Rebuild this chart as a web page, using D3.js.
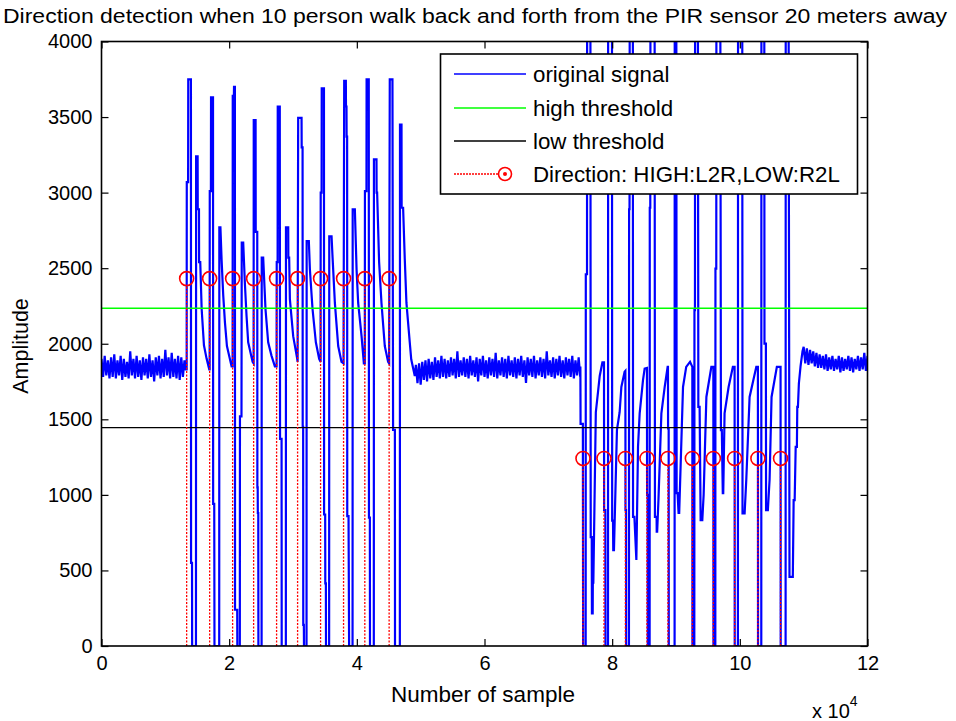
<!DOCTYPE html>
<html>
<head>
<meta charset="utf-8">
<script src="https://cdn.jsdelivr.net/npm/d3@7"></script>
<style>
body { margin: 0; background: #fff; }
text { font-family: "Liberation Sans", Arial, sans-serif; fill: #000; }
</style>
</head>
<body>
<svg id="chart" width="956" height="721"></svg>
<script>
//## values
var yTicks = [0, 500, 1000, 1500, 2000, 2500, 3000, 3500, 4000];
var xTicks = [0, 20000, 40000, 60000, 80000, 100000, 120000];
var xTickLabels = ['0', '2', '4', '6', '8', '10', '12'];
var highThreshold = 2235;
var lowThreshold = 1445;
// detections: HIGH = left to right, LOW = right to left
var l2rSamples = [13340, 16940, 20540, 23830, 27430, 30720, 34320, 37920, 41250, 45060];
var l2rLevel = 2431;
var r2lSamples = [75430, 78720, 82070, 85450, 88740, 92560, 95850, 99180, 102830, 106380];
var r2lLevel = 1241;

// idle sensor output, one reading every 250 samples
var baseStep = 250;
var baseLeft = [1900,1780,1920,1790,1890,1770,1910,1780,1930,1770,1890,1790,1920,1760,1900,1780,1880,1770,1950,1790,
    1900,1770,1920,1780,1890,1760,1910,1790,1900,1770,1930,1780,1890,1750,1910,1790,1920,1770,1900,1780,
    1960,1790,1910,1770,1940,1780,1900,1770,1920,1760,1910,1780,1890];
var baseMidStart = 49250;
var baseMid = [1860,1740,1870,1730,1880,1760,1890,1750,1900,1770,1880,1760,1910,1780,1890,1770,1920,1780,1900,1770,
    1890,1780,1910,1790,1900,1770,1950,1780,1890,1790,1910,1780,1900,1770,1920,1790,1890,1780,1910,1750,
    1900,1790,1920,1780,1890,1770,1910,1790,1900,1780,1940,1770,1890,1790,1910,1780,1900,1770,1920,1790,
    1890,1780,1910,1770,1900,1790,1920,1780,1890,1740,1910,1790,1900,1780,1920,1770,1890,1790,1910,1780,
    1900,1770,1950,1790,1890,1780,1910,1770,1900,1790,1920,1780,1890,1770,1910,1790,1900,1780,1920,1770,
    1890,1790,1910,1780];
var baseRightStart = 110000;
var baseRight = [1980,1870,1970,1860,1960,1870,1950,1850,1940,1840,1930,1840,1920,1830,1930,1820,1910,1830,1920,1820,
    1900,1830,1920,1810,1910,1820,1900,1830,1920,1820,1910,1810,1900,1830,1920,1820,1910,1830,1940,1820,1920];

// people passing, [kilo-sample, amplitude]
var burstLeft = [[13.20,1830],[13.34,1830],[13.36,3070],[13.57,3070],[13.59,3750],[14.01,3750],[14.03,550],[14.18,550],[14.20,0],[14.80,0],[14.82,3240],[15.06,3240],[15.08,2890],[15.27,2890],[15.29,2540],[15.47,2540],[15.69,2230],[16.05,1990],[16.47,1900],[16.88,1830],
    [16.94,1830],[16.96,3010],[17.14,3010],[17.16,3630],[17.47,3630],[17.49,940],[17.66,940],[17.70,0],[18.44,0],[18.46,2770],[18.63,2770],[18.82,2550],[19.07,2320],[19.34,2140],[19.65,1985],[20.38,1850],
    [20.54,1850],[20.56,3640],[20.74,3640],[20.76,3700],[20.90,3700],[20.92,240],[21.26,240],[21.28,0],[21.67,0],[21.69,1520],[21.93,1520],[21.97,2670],[22.20,2670],[22.46,2400],[22.72,2185],[22.98,2010],[23.67,1880],
    [23.83,1870],[23.85,3480],[24.14,3480],[24.16,2740],[24.40,2740],[24.42,1050],[24.47,1050],[24.49,880],[24.56,880],[24.58,0],[25.08,0],[25.10,2570],[25.33,2570],[25.69,2230],[26.11,2010],[26.64,1920],[27.16,1850],
    [27.43,1850],[27.45,2540],[27.59,2540],[27.61,3570],[27.93,3570],[27.97,1370],[28.21,1370],[28.23,0],[28.88,0],[28.90,2770],[29.25,2770],[29.27,2570],[29.40,2570],[29.51,2295],[30.03,2050],[30.66,1900],
    [30.72,1880],[30.81,3495],[31.34,3495],[31.36,3300],[31.50,3300],[31.52,1450],[31.59,1450],[31.61,140],[31.70,140],[31.72,0],[32.12,0],[32.14,2680],[32.48,2680],[32.65,2490],[33.06,2230],[33.58,2010],[34.10,1900],
    [34.32,1880],[34.34,3000],[34.48,3000],[34.50,3690],[34.85,3690],[34.87,870],[35.04,870],[35.06,415],[35.15,415],[35.17,0],[35.66,0],[35.68,2710],[36.04,2710],[36.20,2570],[36.56,2270],[37.08,1985],[37.60,1880],
    [37.92,1870],[38.02,3740],[38.28,3740],[38.30,3570],[38.38,3570],[38.40,3370],[38.48,3370],[38.50,860],[38.70,860],[38.79,0],[39.33,0],[39.35,2890],[39.69,2890],[39.96,2490],[40.21,2270],[40.74,2050],[41.10,1870],
    [41.25,1870],[41.27,3010],[41.51,3010],[41.53,3750],[41.87,3750],[41.90,850],[42.04,850],[42.06,0],[42.66,0],[42.68,3220],[43.08,3220],[43.10,3000],[43.18,3000],[43.49,2540],[43.86,2270],[44.38,1985],[44.90,1880],
    [45.06,1870],[45.16,3750],[45.58,3750],[45.68,1430],[45.96,1430],[45.98,0],[46.74,0],[46.76,3450],[47.00,3450],[47.02,2900],[47.25,2900],[47.51,2560],[47.77,2270],[48.29,2010],[48.52,1897],[49.08,1787]];

var burstRight = [[75.02,1850],[75.05,1470],[75.41,1470],[75.45,0],[75.85,0],[75.87,2460],[76.06,2460],[76.08,4300],[76.59,4300],[76.64,720],[76.80,720],[76.83,215],[76.95,215],[76.97,420],[77.05,420],[77.44,1547],[77.78,1680],[78.05,1787],[78.47,1877],[78.70,1877],
    [78.72,1877],[78.74,900],[78.93,900],[78.95,0],[79.35,0],[79.37,4300],[79.97,4300],[80.00,830],[80.13,830],[80.17,635],[80.28,635],[80.75,1430],[81.17,1547],[81.44,1714],[81.95,1814],
    [82.07,1820],[82.09,900],[82.17,900],[82.19,0],[82.63,0],[82.65,2890],[82.72,2890],[82.75,4300],[83.24,4300],[83.27,855],[83.48,855],[83.79,570],[84.05,1318],[84.31,1540],[84.83,1759],[85.09,1836],
    [85.45,1840],[85.47,1000],[85.55,1000],[85.58,0],[85.87,0],[85.89,2900],[85.97,2900],[86.00,4300],[86.65,4300],[86.70,855],[86.96,855],[86.98,756],[87.05,756],[87.25,965],[87.71,1540],[88.23,1714],[88.69,1847],
    [88.74,1847],[88.76,1440],[88.85,1440],[88.87,0],[89.78,0],[89.80,4300],[90.05,4300],[90.10,1011],[90.25,1011],[90.40,880],[90.50,880],[91.10,1714],[91.60,1847],[92.20,1880],
    [92.56,1847],[92.58,0],[92.87,0],[92.89,2222],[92.97,2222],[92.99,4300],[93.43,4300],[93.50,1582],[93.70,1582],[93.86,833],[94.12,833],[94.33,1000],[94.76,1648],[95.54,1847],
    [95.85,1847],[95.87,0],[96.16,0],[96.18,2497],[96.31,2497],[96.33,4300],[96.94,4300],[97.04,1428],[97.18,1428],[97.33,1011],[97.40,1011],[97.61,1540],[98.24,1714],[98.91,1847],
    [99.18,1847],[99.20,0],[99.70,0],[99.72,4300],[100.38,4300],[100.42,877],[100.75,877],[101.01,1100],[101.53,1648],[102.58,1847],
    [102.83,1847],[102.85,0],[103.36,0],[103.38,4300],[103.83,4300],[103.86,2001],[104.08,2001],[104.11,899],[104.39,899],[104.66,1100],[104.97,1648],[105.80,1847],
    [106.38,1847],[106.40,0],[107.17,0],[107.19,4300],[107.64,4300],[107.78,458],[108.30,458],[108.43,965],[108.59,965],[108.75,1318],[108.94,1318],[109.00,1582],[109.10,1582],[109.25,1737],[109.51,1850],[109.82,1950]];

var titleText = 'Direction detection when 10 person walk back and forth from the PIR sensor 20 meters away';
var legendNames = ['original signal', 'high threshold', 'low threshold', 'Direction: HIGH:L2R,LOW:R2L'];

//## build the full trace
function baseline(start, vals) {
    return vals.map(function (v, i) { return [start + i * baseStep, v]; });
}
function kilo(p) { return [p[0] * 1000, p[1]]; }
var signal = [].concat(
    baseline(0, baseLeft),
    burstLeft.map(kilo),
    baseline(baseMidStart, baseMid),
    burstRight.map(kilo),
    baseline(baseRightStart, baseRight));

var detections = l2rSamples.map(function (s) { return [s, l2rLevel]; })
    .concat(r2lSamples.map(function (s) { return [s, r2lLevel]; }));

//## layout
var svg = d3.select('#chart');
var axLeft = 101.5, axRight = 867.5, axTop = 41.5, axBottom = 646;

var x = d3.scaleLinear().domain([0, 120000]).range([axLeft, axRight]);
var y = d3.scaleLinear().domain([0, 4000]).range([axBottom, axTop]);

svg.append('defs').append('clipPath').attr('id', 'plotclip')
    .append('rect')
    .attr('x', axLeft).attr('y', axTop)
    .attr('width', axRight - axLeft).attr('height', axBottom - axTop);

var plot = svg.append('g').attr('clip-path', 'url(#plotclip)');

var line = d3.line()
    .x(function (d) { return x(d[0]); })
    .y(function (d) { return y(d[1]); });

plot.append('path')
    .datum(signal)
    .attr('d', line)
    .attr('fill', 'none')
    .attr('stroke', '#0000ff')
    .attr('stroke-width', 2.2)
    .attr('stroke-linejoin', 'miter');

plot.append('line')
    .attr('x1', axLeft).attr('x2', axRight)
    .attr('y1', y(highThreshold)).attr('y2', y(highThreshold))
    .attr('stroke', '#00ff00').attr('stroke-width', 1.6);

plot.append('line')
    .attr('x1', axLeft).attr('x2', axRight)
    .attr('y1', y(lowThreshold)).attr('y2', y(lowThreshold))
    .attr('stroke', '#000').attr('stroke-width', 1.4);

//## stems for the detections
var stems = plot.selectAll('.stem')
    .data(detections)
    .enter().append('g')
    .attr('class', 'stem');

stems.append('line')
    .attr('x1', function (d) { return x(d[0]); })
    .attr('x2', function (d) { return x(d[0]); })
    .attr('y1', y(0))
    .attr('y2', function (d) { return y(d[1]) + 7; })
    .attr('stroke', '#ff0000')
    .attr('stroke-width', 1.3)
    .attr('stroke-dasharray', '2,1.5');

stems.append('circle')
    .attr('cx', function (d) { return x(d[0]); })
    .attr('cy', function (d) { return y(d[1]); })
    .attr('r', 7)
    .attr('fill', 'none')
    .attr('stroke', '#ff0000')
    .attr('stroke-width', 1.6);

//## axes, ticks pointing inwards like matlab
function styleAxis(g) {
    g.select('.domain').remove();
    g.selectAll('.tick line').attr('stroke', '#000').attr('stroke-width', 1.2);
    g.selectAll('.tick text').style('font-size', '20px');
}
svg.append('g')
    .attr('transform', 'translate(0,' + axBottom + ')')
    .call(d3.axisBottom(x).tickValues(xTicks).tickSize(-7).tickPadding(10)
        .tickFormat(function (d, i) { return xTickLabels[i]; }))
    .call(styleAxis);
svg.append('g')
    .attr('transform', 'translate(0,' + axTop + ')')
    .call(d3.axisTop(x).tickValues(xTicks).tickSize(-7).tickFormat(''))
    .call(styleAxis);
svg.append('g')
    .attr('transform', 'translate(' + axLeft + ',0)')
    .call(d3.axisLeft(y).tickValues(yTicks).tickSize(-7).tickPadding(9).tickFormat(d3.format('d')))
    .call(styleAxis);
svg.append('g')
    .attr('transform', 'translate(' + axRight + ',0)')
    .call(d3.axisRight(y).tickValues(yTicks).tickSize(-7).tickFormat(''))
    .call(styleAxis);

svg.append('rect')
    .attr('x', axLeft).attr('y', axTop)
    .attr('width', axRight - axLeft).attr('height', axBottom - axTop)
    .attr('fill', 'none').attr('stroke', '#000').attr('stroke-width', 1.6);

//## labels
svg.append('text')
    .attr('x', 475).attr('y', 23)
    .attr('text-anchor', 'middle')
    .attr('textLength', 944).attr('lengthAdjust', 'spacingAndGlyphs')
    .style('font-size', '20px')
    .text(titleText);

svg.append('text')
    .attr('x', 483).attr('y', 702)
    .attr('text-anchor', 'middle')
    .style('font-size', '22.5px')
    .text('Number of sample');

svg.append('text')
    .attr('transform', 'translate(28,346) rotate(-90)')
    .attr('text-anchor', 'middle')
    .style('font-size', '21.5px')
    .text('Amplitude');

var expo = svg.append('text')
    .attr('x', 812).attr('y', 718)
    .style('font-size', '20px')
    .text('x 10');
expo.append('tspan')
    .attr('dy', -12)
    .style('font-size', '14px')
    .text('4');

//## legend
var legend = svg.append('g').attr('class', 'legend');
legend.append('rect')
    .attr('x', 440.5).attr('y', 54)
    .attr('width', 417).attr('height', 140)
    .attr('fill', '#fff').attr('stroke', '#000').attr('stroke-width', 1.6);

var legendColors = ['#0000ff', '#00ff00', '#000000', '#ff0000'];
var legendRows = [74, 108, 141, 174];

var rows = legend.selectAll('.row')
    .data(legendNames)
    .enter().append('g')
    .attr('class', 'row')
    .attr('transform', function (d, i) { return 'translate(0,' + legendRows[i] + ')'; });

rows.append('line')
    .attr('x1', 454)
    .attr('x2', function (d, i) { return i == 3 ? 499 : 526; })
    .attr('stroke', function (d, i) { return legendColors[i]; })
    .attr('stroke-width', 1.3)
    .attr('stroke-dasharray', function (d, i) { return i == 3 ? '2,1' : null; });

rows.append('text')
    .attr('x', 533)
    .attr('dy', '0.36em')
    .style('font-size', '22.3px')
    .text(function (d) { return d; });

var mark = legend.append('g').attr('transform', 'translate(505,' + legendRows[3] + ')');
mark.append('circle').attr('r', 6.5).attr('fill', 'none').attr('stroke', '#ff0000').attr('stroke-width', 1.6);
mark.append('circle').attr('r', 2).attr('fill', '#ff0000');
</script>
</body>
</html>
